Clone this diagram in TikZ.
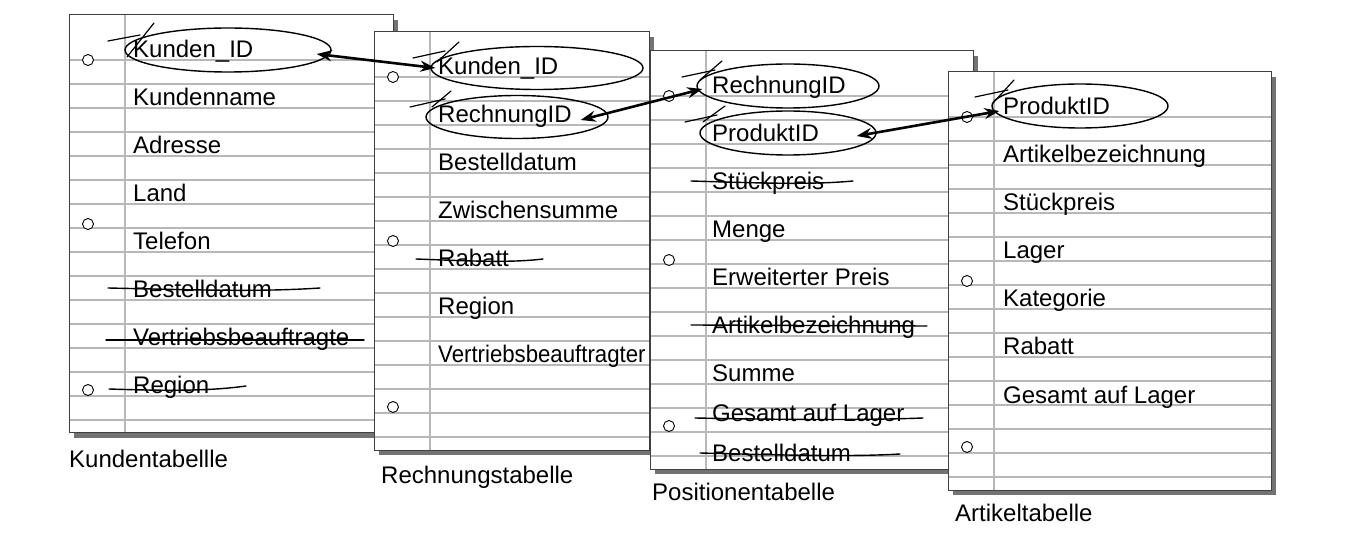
\documentclass[tikz,border=0pt]{standalone}
\usepackage{fontspec}
\setmainfont{Liberation Sans}
\usetikzlibrary{arrows.meta,shapes.geometric}
\tikzset{
  schatten/.style={fill=black!55},
  blatt/.style={fill=white},
  rand/.style={draw=black!75,line width=1pt},
  linie/.style={draw=black!28,line width=1.3pt},
  loch/.style={draw=black,fill=white,line width=0.9pt},
  feld/.style={anchor=base west,inner sep=0pt,font=\fontsize{24}{28}\selectfont},
  titel/.style={anchor=base west,inner sep=0pt,font=\fontsize{24}{28}\selectfont},
  markiert/.style={ellipse,draw,line width=1.4pt,inner sep=0pt},
  streich/.style={line width=1.4pt,line cap=round},
  haken/.style={line width=1.2pt,line cap=round},
  bezug/.style={{Stealth[length=15pt,width=11pt]}-{Stealth[length=15pt,width=11pt]},line width=2.6pt}
}
% ein Blatt: links, oben, Breite, Randlinie
\newcommand{\blatt}[4]{%
  \fill[schatten] (#1+5,#2+5) rectangle (#1+#3+5,#2+423);
  \fill[blatt] (#1,#2) rectangle (#1+#3,#2+418);
  \foreach \k in {0,...,15}
    \draw[linie] (#1,#2+45+24*\k) -- (#1+#3,#2+45+24*\k);
  \draw[linie] (#1+#4,#2) -- (#1+#4,#2+418);
  \foreach \h in {45,209,375}
    \draw[loch] (#1+19,#2+\h) circle (5.5pt);
  \draw[rand] (#1,#2) rectangle (#1+#3,#2+418);
}
\begin{document}
\begin{tikzpicture}[x=1pt,y=-1pt]
\useasboundingbox (0,0) rectangle (1345,537);
% Kundentabelle
\blatt{69}{15}{324}{56}
\foreach \t [count=\i from 0] in {Kunden\_ID,Kundenname,Adresse,Land,Telefon,Bestelldatum,Vertriebsbeauftragte,Region}
  \node[feld] (s1t\i) at (133,58+48*\i) {\t};
\node[markiert,minimum width=206pt,minimum height=44pt] (m1) at (228,50) {};
\draw[haken] (108,41) -- (140,35);
\draw[haken] (154,23) -- (127,57);
\draw[streich] (108,288) .. controls (200,290) and (260,292) .. (320,288);
\draw[streich] (106,340) -- (364,340);
\draw[streich] (109,389) .. controls (170,391) and (210,391) .. (246,386);
\node[titel] (t1) at (69,467) {Kundentabellle};
% Rechnungstabelle
\blatt{374}{32}{275}{56}
\foreach \t [count=\i from 0] in {Kunden\_ID,RechnungID,Bestelldatum,Zwischensumme,Rabatt,Region,{\scalebox{0.925}[1]{Vertriebsbeauftragter}}}
  \node[feld] (s2t\i) at (438,75+48*\i) {\t};
\node[markiert,minimum width=212pt,minimum height=43pt] (m2) at (537,68) {};
\node[markiert,minimum width=182pt,minimum height=43pt] (m3) at (517,117) {};
\draw[haken] (413,58) -- (445,51);
\draw[haken] (459,42) -- (437,62);
\draw[haken] (410,107) -- (445,99);
\draw[haken] (451,91) -- (432,107);
\draw[streich] (416,259) .. controls (470,261) and (510,263) .. (543,259);
\node[titel] (t2) at (381,483) {Rechnungstabelle};
% Positionentabelle
\blatt{650}{51}{323}{56}
\foreach \t [count=\i from 0] in {RechnungID,ProduktID,Stückpreis,Menge,Erweiterter Preis,Artikelbezeichnung,Summe}
  \node[feld] (s3t\i) at (712,94+48*\i) {\t};
\node[feld] (s3t7) at (712,421) {Gesamt auf Lager};
\node[feld] (s3t8) at (712,461) {Bestelldatum};
\node[markiert,minimum width=182pt,minimum height=44pt] (m4) at (788,86) {};
\node[markiert,minimum width=176pt,minimum height=44pt] (m5) at (788,133) {};
\draw[haken] (682,77) -- (715,70);
\draw[haken] (722,61) -- (700,80);
\draw[haken] (685,122) -- (717,115);
\draw[haken] (725,106) -- (703,122);
\draw[streich] (691,181) .. controls (760,183) and (810,185) .. (853,181);
\draw[streich] (691,325) -- (927,326);
\draw[streich] (695,418) .. controls (800,420) and (870,420) .. (923,418);
\draw[streich] (700,453) .. controls (780,455) and (850,457) .. (900,454);
\node[titel] (t3) at (652,500) {Positionentabelle};
% Artikeltabelle
\blatt{948}{72}{323}{46}
\foreach \t [count=\i from 0] in {ProduktID,Artikelbezeichnung,Stückpreis,Lager,Kategorie,Rabatt,Gesamt auf Lager}
  \node[feld] (s4t\i) at (1003,115+48*\i) {\t};
\node[markiert,minimum width=176pt,minimum height=44pt] (m6) at (1080,106) {};
\draw[haken] (975,97) -- (1008,90);
\draw[haken] (1014,80) -- (993,103);
\node[titel] (t4) at (955,521) {Artikeltabelle};
% Verweise
\draw[bezug] ([xshift=-15pt,yshift=-4pt]m1.east) -- ([xshift=5pt]m2.west);
\draw[bezug] ([xshift=-28pt,yshift=-3pt]m3.east) -- ([xshift=6pt,yshift=-3pt]m4.west);
\draw[bezug] ([xshift=-20pt,yshift=-3pt]m5.east) -- ([xshift=8pt,yshift=-5pt]m6.west);
\end{tikzpicture}
\end{document}
